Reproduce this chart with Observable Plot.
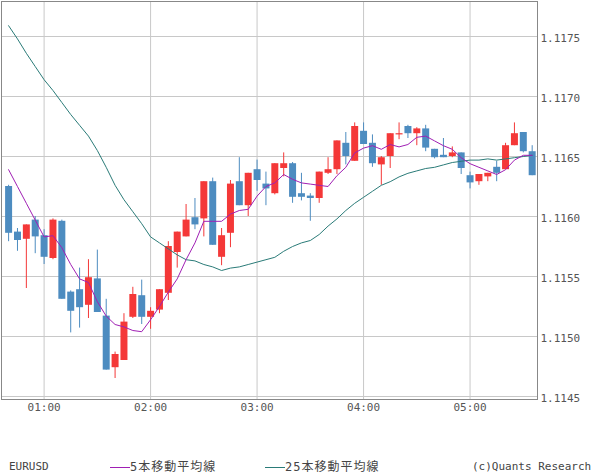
<!DOCTYPE html>
<html><head><meta charset="utf-8">
<script src="https://cdn.jsdelivr.net/npm/d3@7"></script>
<script src="https://cdn.jsdelivr.net/npm/@observablehq/plot@0.6"></script>
<style>
html,body{margin:0;padding:0;background:#fff;}
body{width:600px;height:475px;overflow:hidden;position:relative;font-family:"DejaVu Sans Mono",monospace;}
#chart{position:absolute;left:0;top:0;}
.leg{position:absolute;top:460px;font-size:11px;color:#444;line-height:14px;white-space:nowrap;}
.sw{display:inline-block;width:20px;height:1px;vertical-align:middle;margin-right:0;position:relative;top:-1px;}
.jp{font-family:"DejaVu Sans Mono","Noto Sans CJK JP",sans-serif;font-size:12px;letter-spacing:1px;}
</style></head><body>
<div id="chart"></div>
<div class="leg" style="left:9px">EURUSD</div>
<div class="leg" style="left:110px"><span class="sw" style="background:#a01fb4"></span><span class="jp">5本移動平均線</span></div>
<div class="leg" style="left:265px"><span class="sw" style="background:#2a7b78"></span><span class="jp">25本移動平均線</span></div>
<div class="leg" style="left:472px">(c)Quants Research</div>
<script>
// EURUSD 5-minute candles, 00:40 .. 05:35
const symbol = "EURUSD";
const startHour = 0, startMinute = 40, stepMinutes = 5;
const open = [1.11625,1.11587,1.11581,1.11597,1.11584,1.11565,1.11596,1.11537,1.11539,1.11526,
  1.11548,1.11517,1.11474,1.11480,1.11516,1.11534,1.11516,1.11522,1.11536,1.11570,
  1.11583,1.11599,1.11598,1.11629,1.11566,1.11586,1.11629,1.11609,1.11639,1.11627,
  1.11619,1.11640,1.11644,1.11619,1.11617,1.11615,1.11636,1.11639,1.11661,1.11646,
  1.11671,1.11661,1.11643,1.11650,1.11668,1.11675,1.11669,1.11673,1.11656,1.11651,
  1.11650,1.11653,1.11634,1.11629,1.11633,1.11641,1.11639,1.11659,1.11670,1.11654];
const high = [1.11626,1.11590,1.11593,1.11600,1.11589,1.11598,1.11597,1.11538,1.11557,1.11564,
  1.11572,1.11531,1.11487,1.11519,1.11541,1.11547,1.11524,1.11539,1.11579,1.11587,
  1.11610,1.11615,1.11629,1.11632,1.11590,1.11630,1.11649,1.11636,1.11647,1.11637,
  1.11644,1.11653,1.11645,1.11636,1.11619,1.11637,1.11649,1.11663,1.11670,1.11678,
  1.11678,1.11668,1.11650,1.11669,1.11678,1.11676,1.11674,1.11676,1.11656,1.11665,
  1.11658,1.11653,1.11637,1.11635,1.11636,1.11646,1.11661,1.11678,1.11670,1.11659];
const low = [1.11579,1.11571,1.11540,1.11569,1.11560,1.11564,1.11531,1.11503,1.11507,1.11515,
  1.11520,1.11472,1.11465,1.11480,1.11515,1.11510,1.11506,1.11519,1.11530,1.11557,
  1.11583,1.11589,1.11583,1.11576,1.11559,1.11574,1.11609,1.11600,1.11621,1.11609,
  1.11618,1.11633,1.11611,1.11613,1.11596,1.11611,1.11635,1.11635,1.11643,1.11646,
  1.11660,1.11641,1.11626,1.11640,1.11664,1.11665,1.11659,1.11654,1.11648,1.11649,
  1.11649,1.11635,1.11623,1.11626,1.11629,1.11629,1.11639,1.11659,1.11653,1.11634];
const close = [1.11586,1.11580,1.11593,1.11583,1.11566,1.11597,1.11531,1.11521,1.11524,1.11549,
  1.11520,1.11472,1.11485,1.11512,1.11535,1.11516,1.11521,1.11539,1.11575,1.11587,
  1.11597,1.11593,1.11629,1.11576,1.11584,1.11627,1.11609,1.11636,1.11630,1.11623,
  1.11644,1.11644,1.11616,1.11616,1.11615,1.11637,1.11639,1.11663,1.11650,1.11675,
  1.11660,1.11644,1.11649,1.11669,1.11669,1.11669,1.11673,1.11657,1.11649,1.11649,
  1.11653,1.11640,1.11628,1.11635,1.11636,1.11636,1.11659,1.11669,1.11654,1.11634];
const ma5 = [1.11639,1.11625,1.11611,1.11597,1.11583,1.11584,1.11574,1.11560,1.11548,1.11545,
  1.11529,1.11517,1.11510,1.11508,1.11505,1.11504,1.11514,1.11525,1.11537,1.11548,
  1.11564,1.11578,1.11596,1.11596,1.11596,1.11602,1.11605,1.11606,1.11617,1.11625,
  1.11628,1.11635,1.11631,1.11628,1.11627,1.11626,1.11625,1.11634,1.11641,1.11653,
  1.11657,1.11659,1.11656,1.11660,1.11658,1.11660,1.11666,1.11667,1.11663,1.11659,
  1.11656,1.11649,1.11644,1.11641,1.11638,1.11635,1.11639,1.11647,1.11651,1.11651];
const ma25 = [1.11759,1.11748,1.11736,1.11725,1.11714,1.11705,1.11695,1.11685,1.11676,1.11667,
  1.11655,1.11641,1.11626,1.11614,1.11604,1.11594,1.11583,1.11578,1.11573,1.11568,
  1.11564,1.11563,1.11560,1.11558,1.11555,1.11557,1.11558,1.11560,1.11562,1.11564,
  1.11566,1.11571,1.11575,1.11578,1.11580,1.11585,1.11592,1.11598,1.11605,1.11611,
  1.11616,1.11621,1.11626,1.11629,1.11633,1.11636,1.11638,1.11640,1.11641,1.11643,
  1.11645,1.11646,1.11647,1.11647,1.11648,1.11647,1.11648,1.11649,1.11650,1.11651];
const yTicks = [1.1145,1.1150,1.1155,1.1160,1.1165,1.1170,1.1175];
const hourTicks = [1,2,3,4,5];

const RED = "#f43838", BLUE = "#4d8cc0", PURPLE = "#a01fb4", TEAL = "#2a7b78";
const T = m => new Date(Date.UTC(2020,0,1,startHour,startMinute + m));
const candles = open.map((o,i) => ({
  t: T(i*stepMinutes), o, h: high[i], l: low[i], c: close[i], ma5: ma5[i], ma25: ma25[i]
}));
const hours = hourTicks.map(h => new Date(Date.UTC(2020,0,1,h)));
const col = d => d.c >= d.o ? RED : BLUE;

const chart = Plot.plot({
  width: 600, height: 420,
  marginTop: 1, marginBottom: 21, marginLeft: 1, marginRight: 63,
  style: {fontFamily: "'DejaVu Sans Mono', monospace", fontSize: "11px", color: "#555", background: "#fff"},
  x: {type: "utc", domain: [T(-3.66), T(298.3)], label: null},
  y: {domain: [1.114475, 1.1177917], label: null},
  marks: [
    Plot.gridY(yTicks, {stroke: "#c8c8c8", strokeOpacity: 1}),
    Plot.gridX(hours, {stroke: "#c8c8c8", strokeOpacity: 1}),
    Plot.ruleX(candles, {x: "t", y1: "l", y2: "h", stroke: col, strokeWidth: 1}),
    Plot.ruleX(candles, {x: "t", y1: "o", y2: "c", stroke: col, strokeWidth: 7}),
    Plot.line(candles, {x: "t", y: "ma25", stroke: TEAL, strokeWidth: 1}),
    Plot.line(candles, {x: "t", y: "ma5", stroke: PURPLE, strokeWidth: 1}),
    Plot.frame({stroke: "#888", strokeOpacity: 1}),
    Plot.axisY(yTicks, {anchor: "right", label: null, tickSize: 0, tickPadding: 3, dy: 2, tickFormat: d3.format(".4f"), fill: "#555"}),
    Plot.axisX(hours, {anchor: "bottom", label: null, tickSize: 0, tickPadding: 4, tickFormat: d3.utcFormat("%H:%M"), fill: "#555"})
  ]
});
document.getElementById("chart").appendChild(chart);
</script>
</body></html>
